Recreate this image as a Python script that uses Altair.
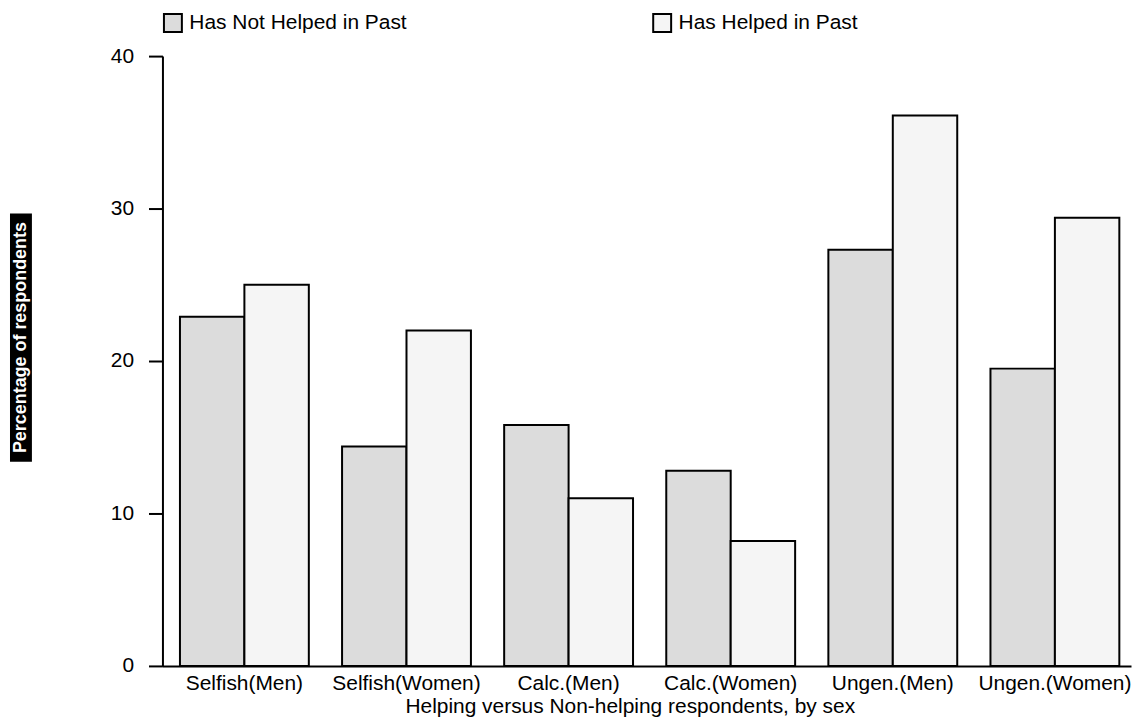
import altair as alt
import pandas as pd

categories = ["Selfish(Men)", "Selfish(Women)", "Calc.(Men)", "Calc.(Women)", "Ungen.(Men)", "Ungen.(Women)"]
series = ["Has Not Helped in Past", "Has Helped in Past"]
not_helped = [22.9, 14.4, 15.8, 12.8, 27.3, 19.5]
helped = [25.0, 22.0, 11.0, 8.2, 36.1, 29.4]
colors = ["#dcdcdc", "#f5f5f5"]
y_ticks = [0, 10, 20, 30, 40]
x_title = "Helping versus Non-helping respondents, by sex"
y_title = "Percentage of respondents"

rows = []
for c, a, b in zip(categories, not_helped, helped):
    rows.append({"group": c, "series": series[0], "value": a})
    rows.append({"group": c, "series": series[1], "value": b})
df = pd.DataFrame(rows)

FONT = "Liberation Sans"

bars = alt.Chart(df).mark_bar(stroke="black", strokeWidth=2, opacity=1).encode(
    x=alt.X("group:N", sort=categories,
            scale=alt.Scale(paddingInner=0.205, paddingOuter=0.09, align=0.6),
            axis=alt.Axis(title=x_title, labelAngle=0, ticks=False, labelPadding=7,
                          titlePadding=2, titleX=469, domainColor="black", domainWidth=2,
                          labelFont=FONT, labelFontSize=21, labelColor="black",
                          titleFont=FONT, titleFontSize=21, titleFontWeight="normal",
                          titleColor="black")),
    xOffset=alt.XOffset("series:N", sort=series, scale=alt.Scale(paddingInner=0, paddingOuter=0)),
    y=alt.Y("value:Q", scale=alt.Scale(domain=[0, 40], nice=False),
            axis=alt.Axis(title=None, values=y_ticks, grid=False, tickSize=14, tickWidth=2,
                          tickColor="black", domainColor="black", domainWidth=2,
                          labelPadding=15, labelFont=FONT, labelFontSize=21,
                          labelColor="black")),
    fill=alt.Fill("series:N", sort=series,
                  scale=alt.Scale(domain=series, range=colors),
                  legend=alt.Legend(title=None, orient="none", legendX=0, legendY=-44,
                                    direction="horizontal", symbolType="square",
                                    symbolSize=324, symbolStrokeColor="black",
                                    symbolStrokeWidth=2, symbolOpacity=1,
                                    labelFont=FONT, labelFontSize=21, labelColor="black",
                                    labelOffset=6, columnPadding=242, labelLimit=400)),
)

title_df = pd.DataFrame({"label": [y_title]})
ybox = alt.Chart(title_df).mark_rect(color="black").encode(
    x=alt.value(-153), x2=alt.value(-131), y=alt.value(158), y2=alt.value(407)
)
ytext = alt.Chart(title_df).mark_text(angle=270, color="white", font=FONT, fontSize=18,
                                      fontWeight="bold", align="center", baseline="middle").encode(
    x=alt.value(-142), y=alt.value(282.5), text="label:N"
)

chart = alt.layer(bars, ybox, ytext).properties(
    width=972, height=612,
    background="white",
    autosize=alt.AutoSizeParams(type="none"),
    padding={"left": 155, "top": 47, "right": 2, "bottom": 50},
).configure_view(strokeWidth=0, stroke=None)

chart.save("out.html", embed_options={"renderer": "svg", "actions": False})
